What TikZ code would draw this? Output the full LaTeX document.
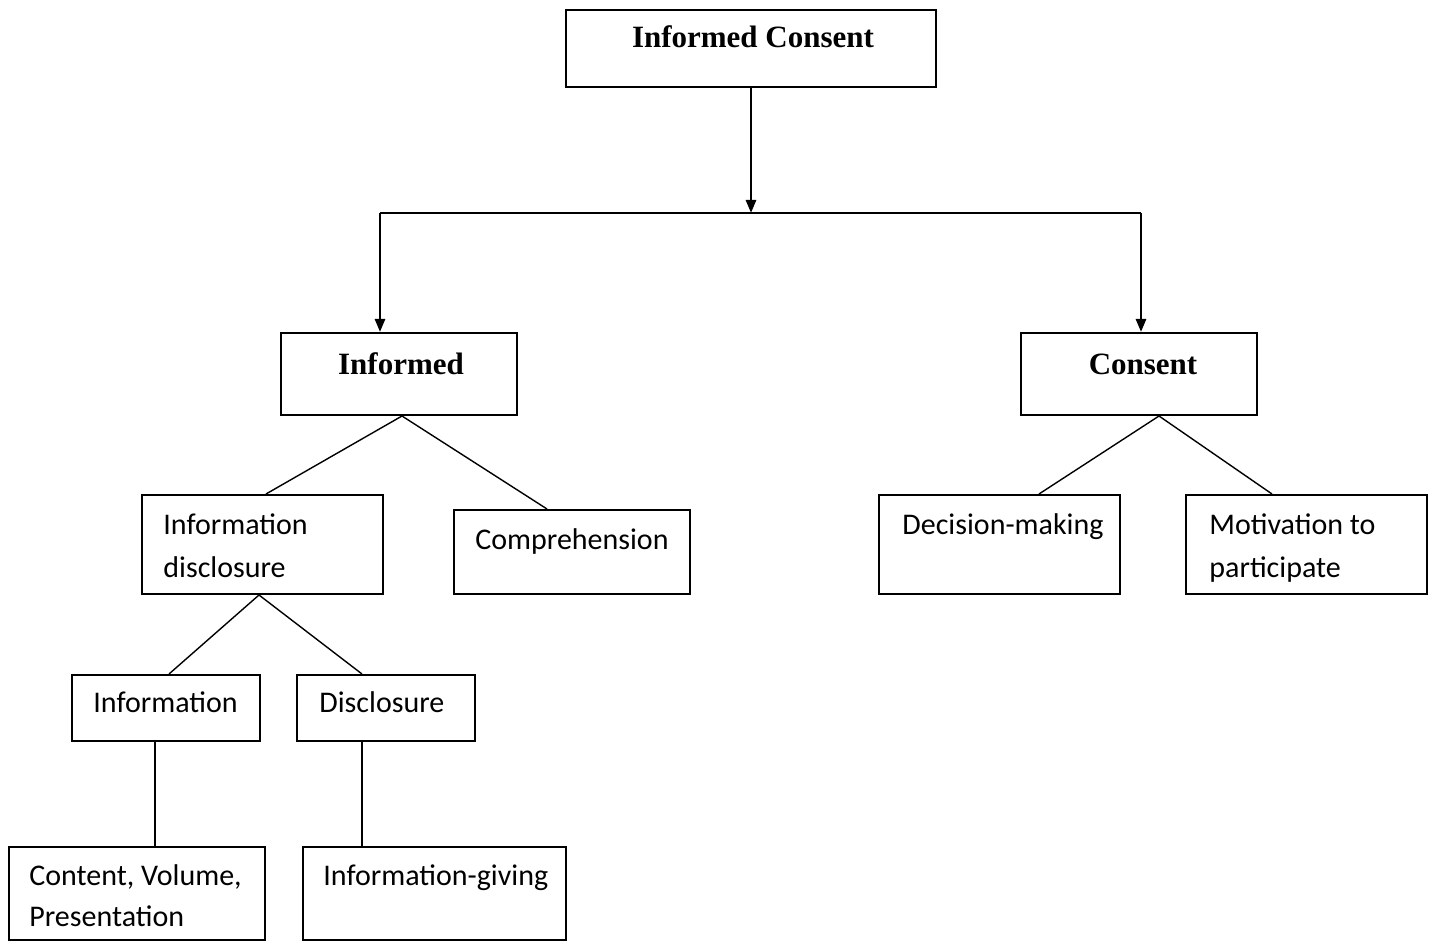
\documentclass[tikz,border=0pt]{standalone}
\usepackage{fontspec}
\setmainfont{Carlito}
\newfontfamily\headfont{Liberation Serif}
\usetikzlibrary{arrows.meta,calc,fit}
\tikzset{
  box/.style={draw=black,line width=1pt,inner sep=0pt,fill=white},
  body/.style={anchor=base west,inner sep=0pt,font=\fontsize{15pt}{21.5pt}\selectfont,align=left},
  head/.style={anchor=base,inner sep=0pt,font=\headfont\bfseries\fontsize{15.5pt}{18pt}\selectfont},
  arr/.style={line width=1.3pt,-{Triangle[length=6.5pt,width=5pt]}},
  trunk/.style={line width=1.3pt},
  branch/.style={line width=0.7pt}
}
\begin{document}
\begin{tikzpicture}[x=0.5pt,y=-0.5pt]
\useasboundingbox (0,0) rectangle (1435,941);
% boxes
\node[box,fit={(566,10) (936,87)}] (ic) {};
\node[box,fit={(281,333) (517,415)}] (inf) {};
\node[box,fit={(1021,333) (1257,415)}] (con) {};
\node[box,fit={(142,495) (383,594)}] (idisc) {};
\node[box,fit={(454,510) (690,594)}] (comp) {};
\node[box,fit={(879,495) (1120,594)}] (dec) {};
\node[box,fit={(1186,495) (1427,594)}] (mot) {};
\node[box,fit={(72,675) (260,741)}] (info) {};
\node[box,fit={(297,675) (475,741)}] (disc) {};
\node[box,fit={(9,847) (265,940)}] (cvp) {};
\node[box,fit={(303,847) (566,940)}] (igive) {};
% texts
\node[head] (ict) at (753,48) {Informed Consent};
\node[head] (inft) at (401,374) {Informed};
\node[head] (cont) at (1143,374) {Consent};
\node[body] (idisct) at (163,534) {Information};
\node[body] (idisct2) at (163,577) {disclosure};
\node[body] (compt) at (475,549) {Comprehension};
\node[body] (dect) at (902,534) {Decision-making};
\node[body] (mott) at (1209,534) {Motivation to};
\node[body] (mott2) at (1209,577) {participate};
\node[body] (infot) at (93,712) {Information};
\node[body] (disct) at (319,712) {Disclosure};
\node[body] (cvpt) at (29,885) {Content, Volume,};
\node[body] (cvpt2) at (29,926) {Presentation};
\node[body] (igivet) at (323,885) {Information-giving};
% connectors
\coordinate (sp) at (751,213);
\coordinate (L) at (380,213);
\coordinate (R) at (1141,213);
\draw[arr] (ic.south -| sp) -- (sp);
\draw[trunk] (L) -- (R);
\draw[arr] (L) -- (L |- inf.north);
\draw[arr] (R) -- (R |- con.north);
\coordinate (infb) at ($(inf.south west)+(122,0)$);
\draw[branch] ($(idisc.north west)+(125,0)$) -- (infb) -- ($(comp.north west)+(94,0)$);
\coordinate (conb) at ($(con.south west)+(139,0)$);
\draw[branch] ($(dec.north west)+(161,0)$) -- (conb) -- ($(mot.north west)+(87,0)$);
\coordinate (idb) at ($(idisc.south west)+(118,0)$);
\draw[branch] ($(info.north west)+(98,0)$) -- (idb) -- ($(disc.north west)+(66,0)$);
\coordinate (infob) at ($(info.south west)+(84,0)$);
\coordinate (discb) at ($(disc.south west)+(66,0)$);
\draw[branch] (infob) -- (infob |- cvp.north);
\draw[branch] (discb) -- (discb |- igive.north);
\end{tikzpicture}
\end{document}
